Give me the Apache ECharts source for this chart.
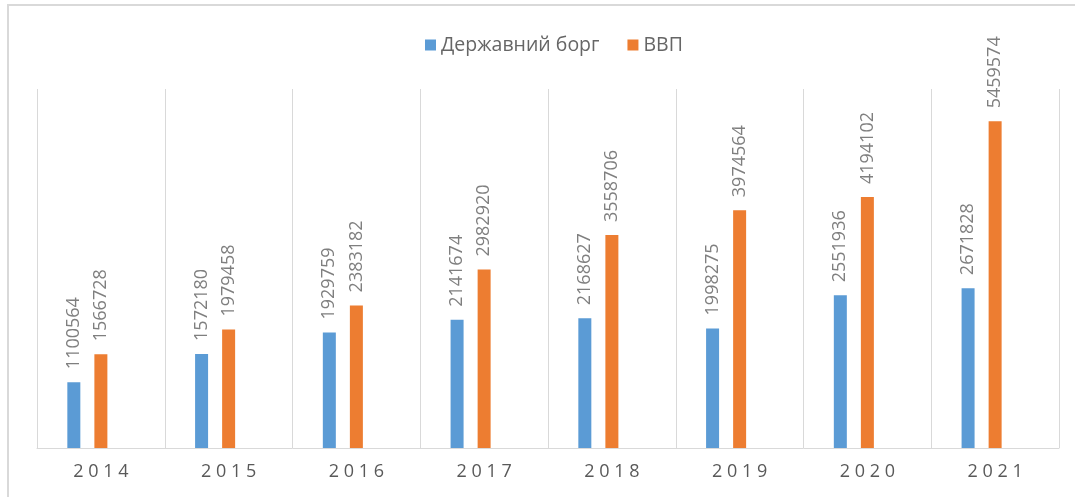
<!doctype html>
<html>
    <head>
        <meta charset="utf-8">
        <title>Державний борг / ВВП</title>
        <style>
            html, body { margin: 0; padding: 0; background: #fff; }
            #main { width: 1075px; height: 497px; }
        </style>
    </head>
    <body>
        <div id="main"></div>
        <script src="https://cdn.jsdelivr.net/npm/echarts@6/dist/echarts.min.js"></script>
        <script>
            var years = ['2014', '2015', '2016', '2017', '2018', '2019', '2020', '2021'];
            var debt = [1100564, 1572180, 1929759, 2141674, 2168627, 1998275, 2551936, 2671828];
            var gdp = [1566728, 1979458, 2383182, 2982920, 3558706, 3974564, 4194102, 5459574];

            var font = '"Open Sans", "Noto Sans", sans-serif';

            var chart = echarts.init(document.getElementById('main'));

            var barLabel = {
                show: true,
                position: 'top',
                rotate: 90,
                align: 'left',
                verticalAlign: 'middle',
                distance: 13,
                color: '#7f7f7f',
                fontSize: 18,
                fontFamily: font
            };

            chart.setOption({
                animation: false,
                graphic: [{
                    type: 'rect',
                    shape: { x: 8, y: 5, width: 1200, height: 700 },
                    style: { fill: 'none', stroke: '#d9d9d9', lineWidth: 2 }
                }],
                legend: {
                    data: ['Державний борг', 'ВВП'],
                    left: 420,
                    top: 30,
                    icon: 'rect',
                    itemWidth: 11,
                    itemHeight: 11,
                    itemGap: 28,
                    textStyle: { color: '#666', fontSize: 19.5, fontFamily: font }
                },
                grid: { left: 37, right: 16, top: 89, bottom: 49 },
                xAxis: {
                    type: 'category',
                    data: years,
                    axisTick: { show: false },
                    axisLine: { lineStyle: { color: '#d9d9d9', width: 1 } },
                    splitLine: { show: true, lineStyle: { color: '#d9d9d9', width: 1 } },
                    axisLabel: {
                        color: '#595959',
                        fontSize: 18,
                        fontFamily: font,
                        margin: 15,
                        formatter: function (v) { return v.split('').join(' '); }
                    }
                },
                yAxis: {
                    type: 'value',
                    show: false,
                    min: 0,
                    max: 6000000,
                    splitLine: { show: false }
                },
                series: [{
                    name: 'Державний борг',
                    type: 'bar',
                    data: debt,
                    barWidth: 13,
                    barGap: '108%',
                    itemStyle: { color: '#5b9bd5' },
                    label: barLabel
                }, {
                    name: 'ВВП',
                    type: 'bar',
                    data: gdp,
                    barWidth: 13,
                    barGap: '108%',
                    itemStyle: { color: '#ed7d31' },
                    label: barLabel
                }, {
                    // empty third slot, as in the source chart
                    name: '',
                    type: 'bar',
                    data: [],
                    barWidth: 13,
                    barGap: '108%'
                }]
            });
        </script>
    </body>
</html>
